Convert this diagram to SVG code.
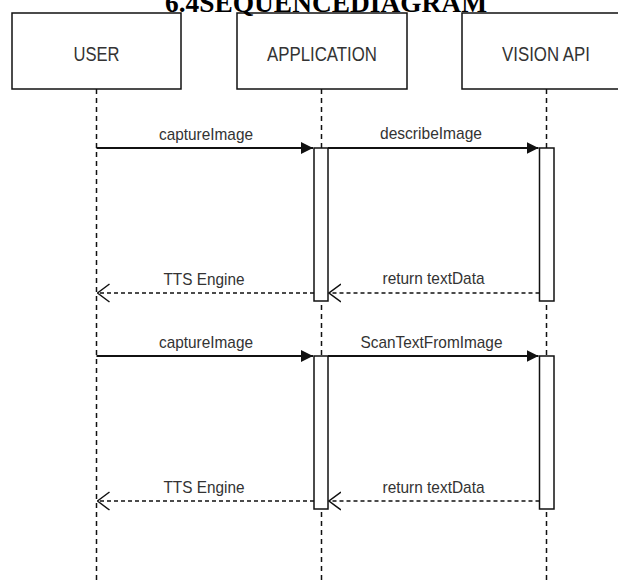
<svg xmlns="http://www.w3.org/2000/svg" width="618" height="582" viewBox="0 0 618 582">
  <style>
    .title { font-family: "Liberation Serif", "Times New Roman", serif; font-weight: bold; font-size: 27px; fill: #000; }
    .head { fill: #fff; stroke: #111; stroke-width: 1.5; }
    .head-label { font-family: "Liberation Sans", Arial, sans-serif; font-size: 21px; fill: #333; text-anchor: middle; }
    .lifeline { stroke: #111; stroke-width: 1.5; stroke-dasharray: 5 4; fill: none; }
    .bar { fill: #fff; stroke: #111; stroke-width: 1.5; }
    .call { stroke: #111; stroke-width: 2; fill: none; }
    .reply { stroke: #111; stroke-width: 1.5; stroke-dasharray: 4 3; fill: none; }
    .msg { font-family: "Liberation Sans", Arial, sans-serif; font-size: 17px; fill: #333; text-anchor: middle; }
  </style>
  <defs>
    <marker id="arrow-solid" viewBox="0 0 12 12" refX="12" refY="6" markerWidth="12" markerHeight="12" markerUnits="userSpaceOnUse" orient="auto">
      <path d="M0,0 L12,6 L0,12 z" fill="#111"/>
    </marker>
    <marker id="arrow-open" viewBox="0 0 13 20" refX="12" refY="10" markerWidth="13" markerHeight="20" markerUnits="userSpaceOnUse" orient="auto">
      <path d="M0,1 L12,10 L0,19" fill="none" stroke="#111" stroke-width="1.5"/>
    </marker>
  </defs>

  <rect width="618" height="582" fill="#fff"/>

  <!-- participants: header box, dashed lifeline, activation bars -->
  <g id="user">
    <line class="lifeline" x1="96.5" y1="89" x2="96.5" y2="582"/>
    <rect class="head" x="12" y="13" width="169" height="76"/>
    <text class="head-label" x="96.5" y="61" textLength="46" lengthAdjust="spacingAndGlyphs">USER</text>
  </g>

  <g id="application">
    <line class="lifeline" x1="321.5" y1="89" x2="321.5" y2="582"/>
    <rect class="head" x="237" y="13" width="170" height="76"/>
    <text class="head-label" x="322" y="61" textLength="110" lengthAdjust="spacingAndGlyphs">APPLICATION</text>
    <rect class="bar" x="314" y="148" width="14" height="153"/>
    <rect class="bar" x="314" y="356" width="14" height="153"/>
  </g>

  <g id="vision-api">
    <line class="lifeline" x1="546.5" y1="89" x2="546.5" y2="582"/>
    <rect class="head" x="462" y="13" width="170" height="76"/>
    <text class="head-label" x="546" y="61" textLength="88" lengthAdjust="spacingAndGlyphs">VISION API</text>
    <rect class="bar" x="539.5" y="148" width="14.5" height="153"/>
    <rect class="bar" x="539.5" y="356" width="14.5" height="153"/>
  </g>

  <!-- messages -->
  <g id="connectors">
    <line class="call" x1="96.5" y1="148" x2="313" y2="148" marker-end="url(#arrow-solid)"/>
    <line class="call" x1="328" y1="148" x2="538.5" y2="148" marker-end="url(#arrow-solid)"/>
    <line class="reply" x1="539.5" y1="293" x2="329" y2="293" marker-end="url(#arrow-open)"/>
    <line class="reply" x1="314" y1="293" x2="97.5" y2="293" marker-end="url(#arrow-open)"/>

    <line class="call" x1="96.5" y1="356" x2="313" y2="356" marker-end="url(#arrow-solid)"/>
    <line class="call" x1="328" y1="356" x2="538.5" y2="356" marker-end="url(#arrow-solid)"/>
    <line class="reply" x1="539.5" y1="501" x2="329" y2="501" marker-end="url(#arrow-open)"/>
    <line class="reply" x1="314" y1="501" x2="97.5" y2="501" marker-end="url(#arrow-open)"/>

    <text class="msg" x="206" y="140" textLength="94" lengthAdjust="spacingAndGlyphs">captureImage</text>
    <text class="msg" x="431" y="139" textLength="102" lengthAdjust="spacingAndGlyphs">describeImage</text>
    <text class="msg" x="204" y="285" textLength="81" lengthAdjust="spacingAndGlyphs">TTS Engine</text>
    <text class="msg" x="433.5" y="284" textLength="102" lengthAdjust="spacingAndGlyphs">return textData</text>

    <text class="msg" x="206" y="348" textLength="94" lengthAdjust="spacingAndGlyphs">captureImage</text>
    <text class="msg" x="431.5" y="348" textLength="142" lengthAdjust="spacingAndGlyphs">ScanTextFromImage</text>
    <text class="msg" x="204" y="493" textLength="81" lengthAdjust="spacingAndGlyphs">TTS Engine</text>
    <text class="msg" x="433.5" y="493" textLength="102" lengthAdjust="spacingAndGlyphs">return textData</text>
  </g>

  <text class="title" x="326" y="12" text-anchor="middle" textLength="322" lengthAdjust="spacingAndGlyphs">6.4SEQUENCEDIAGRAM</text>
</svg>
